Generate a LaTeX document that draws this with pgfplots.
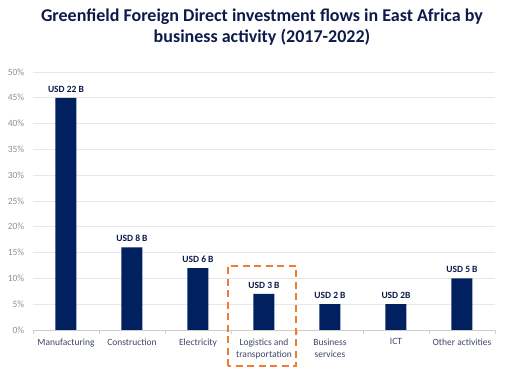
\documentclass[border=0pt]{standalone}
\usepackage{fontspec}
\setmainfont{Carlito}
\usepackage{pgfplots}
\pgfplotsset{compat=1.18}
\definecolor{navy}{HTML}{002060}
\definecolor{titlec}{HTML}{0E1A4A}
\definecolor{orng}{HTML}{ED7D31}
\definecolor{gridc}{HTML}{E8E8E8}
\definecolor{ytc}{HTML}{8A8FA0}
\definecolor{xtc}{HTML}{3E4668}
\begin{document}
\begin{tikzpicture}[x=1pt,y=1pt]
\useasboundingbox (0,0) rectangle (512,374);
\node[font=\bfseries\fontsize{18}{21}\selectfont, text=titlec, align=center] at (262,347) {Greenfield Foreign Direct investment flows in East Africa by\\business activity (2017-2022)};
\begin{axis}[at={(33pt,44pt)}, anchor=south west, scale only axis,
  width=462pt, height=258pt,
  xmin=-0.5, xmax=6.5, ymin=0, ymax=50,
  ybar, bar width=21pt,
  axis lines*=left,
  y axis line style={draw=none},
  x axis line style={draw=gray!40, line width=0.6pt},
  ytick={0,5,...,50},
  yticklabel={\pgfmathprintnumber{\tick}\%},
  /pgf/number format/assume math mode=true,
  yticklabel style={font=\fontsize{9.5}{11}\selectfont, text=ytc, xshift=-1pt},
  ytick style={draw=none},
  ymajorgrids, grid style={gridc, line width=0.6pt},
  xtick={0,...,6},
  xticklabels={Manufacturing, Construction, Electricity, {Logistics and\\transportation}, {Business\\services}, ICT, Other activities},
  xticklabel style={align=center, font=\fontsize{9.5}{12}\selectfont, text=xtc, yshift=-1pt},
  major x tick style={draw=none},
  minor xtick={-0.5,0.5,...,6.5},
  minor x tick style={draw=gray!35, line width=0.6pt},
  minor tick length=4pt,
  tick align=outside,
  clip=false,
  nodes near coords,
  point meta=explicit symbolic,
  nodes near coords style={font=\bfseries\fontsize{9.5}{11}\selectfont, text=titlec, yshift=2pt},
]
\addplot[fill=navy, draw=none] coordinates {
  (0,45) [USD 22 B]
  (1,16) [USD 8 B]
  (2,12) [USD 6 B]
  (3,7) [USD 3 B]
  (4,5) [USD 2 B]
  (5,5) [USD 2B]
  (6,10) [USD 5 B]
};
\draw[orng, line width=2.2pt, dash pattern=on 7pt off 4.5pt] (axis cs:2.45,-7) rectangle (axis cs:3.485,12.4);
\end{axis}
\end{tikzpicture}
\end{document}
